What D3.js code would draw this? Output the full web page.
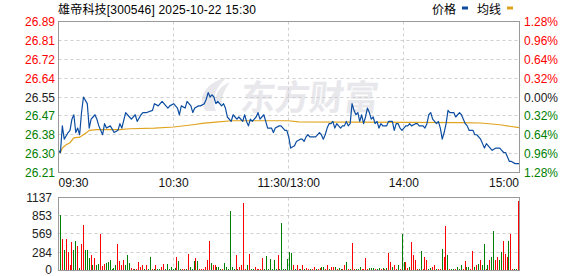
<!DOCTYPE html>
<meta charset="utf-8">
<script src="https://d3js.org/d3.v7.min.js"></script>
<style>body{margin:0;background:#fff}</style>
<div id="chart"></div>
<script>

    // chart texts
    const title = "雄帝科技[300546] 2025-10-22 15:30";
    const legendNames = ["价格", "均线"];
    const priceTicks = ["26.89", "26.81", "26.72", "26.64", "26.55", "26.47", "26.38", "26.30", "26.21"];
    const pctTicks = ["1.28%", "0.96%", "0.64%", "0.32%", "0.00%", "0.32%", "0.64%", "0.96%", "1.28%"];
    const volTicks = [1137, 853, 569, 284, 0];
    const timeTicks = [[0, "09:30"], [60, "10:30"], [120, "11:30/13:00"], [180, "14:00"], [240, "15:00"]];

    // price line (minute index from 09:30, price)
    const priceMin = [0,1,2,3,5,6,7,8,9,10,11,12,13,15,16,17,18,19,20,21,23,24,25,27,29,31,32,33,35,37,38,40,41,43,44,46,49,50,52,54,56,57,58,60,62,63,64,66,67,69,70,71,73,74,76,77,78,79,80,81,82,83,85,86,87,88,90,91,93,94,96,97,98,99,100,101,103,104,105,107,108,109,111,112,113,115,116,118,119,120,
        121,123,124,126,127,128,129,130,131,133,134,136,137,138,139,140,141,142,143,144,145,146,147,148,149,150,151,152,153,154,155,156,157,158,159,160,161,162,163,164,165,166,167,168,169,171,172,173,174,175,176,177,178,179,180,181,182,183,184,186,187,188,190,191,192,
        193,194,195,196,197,198,199,200,201,202,203,204,206,207,208,209,210,211,212,213,214,216,217,218,220,221,222,223,224,226,228,229,230,231,232,233,234,235,236,238,240];
    const priceVal = [26.31,26.30,26.42,26.36,26.39,26.40,26.45,26.47,26.39,26.41,26.38,26.48,26.55,26.52,26.41,26.45,26.46,26.47,26.45,26.42,26.38,26.43,26.41,26.42,26.39,26.40,26.43,26.41,26.48,26.46,26.45,26.47,26.44,26.47,26.48,26.48,26.49,26.52,26.51,26.53,26.51,26.50,26.51,26.52,26.50,26.47,26.51,26.50,26.53,26.51,26.48,26.50,26.51,26.51,26.52,26.54,26.57,26.55,26.56,26.55,26.52,26.53,26.51,26.52,26.50,26.46,26.44,26.47,26.45,26.46,26.44,26.47,26.44,26.42,26.45,26.44,26.46,26.48,26.45,26.47,26.44,26.41,26.41,26.39,26.41,26.42,26.42,26.40,26.40,26.37,
        26.32,26.33,26.35,26.36,26.36,26.35,26.37,26.38,26.37,26.37,26.37,26.39,26.38,26.36,26.38,26.41,26.43,26.43,26.44,26.41,26.43,26.42,26.41,26.42,26.42,26.44,26.42,26.43,26.52,26.49,26.47,26.48,26.44,26.47,26.43,26.46,26.50,26.48,26.45,26.46,26.43,26.44,26.41,26.43,26.42,26.42,26.44,26.44,26.44,26.40,26.43,26.43,26.41,26.40,26.41,26.42,26.42,26.43,26.42,26.43,26.43,26.42,26.42,26.41,26.43,
        26.47,26.48,26.45,26.44,26.43,26.44,26.41,26.36,26.39,26.43,26.49,26.48,26.48,26.46,26.47,26.48,26.47,26.45,26.43,26.42,26.40,26.40,26.38,26.38,26.36,26.34,26.32,26.34,26.33,26.31,26.32,26.32,26.32,26.31,26.30,26.30,26.28,26.26,26.26,26.25,26.25];

    // average line
    const avgMin = [0, 1, 2, 4, 6, 8, 11, 13, 15, 16, 20, 32, 37, 50, 60, 70, 76, 82, 90, 120, 125, 210, 220, 230, 240];
    const avgVal = [26.30, 26.30, 26.32, 26.335, 26.344, 26.366, 26.369, 26.38, 26.392, 26.40, 26.403, 26.403, 26.407, 26.41, 26.415, 26.425, 26.432, 26.437, 26.443, 26.443, 26.438, 26.435, 26.433, 26.425, 26.412];

    // volume per minute, and colour (r = up, g = down)
    const volumes = [857,483,327,493,285,78,451,327,467,389, 40,405,716,327,327,197,249,93,197,78,
        104,576,67,104,119,130,156,26,41,93, 405,145,93,166,78,249,114,41,26,26,
        26,130,52,78,26,78,26,218,26,26, 78,26,26,62,104,26,104,26,62,26,
        41,218,145,26,26,26,26,260,52,26, 145,197,145,26,26,26,62,156,457,119,
        78,93,62,62,26,26,119,62,26,924, 52,26,249,26,52,78,1048,26,93,260,
        26,26,52,26,26,26,197,26,223,26, 182,26,156,26,249,26,737,26,26,182, 285,
        270,78,26,78,26,26,78,26,41,26, 26,26,52,26,26,41,52,62,26,93,
        26,62,52,52,26,36,26,26,78,130, 26,26,426,26,26,26,62,26,26,192,
        26,36,36,36,26,26,36,26,36,26, 41,270,130,62,78,26,78,26,561,130,
        130,41,62,441,234,166,26,26,311,26, 218,156,26,41,52,78,26,26,26,337,
        218,700,234,26,26,26,26,52,26,78, 26,145,52,52,26,301,52,78,104,166,
        93,405,26,88,166,208,623,166,218,166, 285,467,260,208,457,561,26,26,26,1080];
    const volColors = ("grgrrrrggr" + "grrgggrgrg" + "grrrgggggg" + "rrrrgggrrg" + "rrrrgrggrg" +
        "rggrrggggg" + "grggrrgrgg" + "grgrrrrrrg" + "rrgggrgggg" + "ggrgrrrrgr" +
        "ggrrrrrggg" + "ggggrggggg" + "g" +
        "grgrrgrgrr" + "grrgrrggrr" + "grrgrggrrg" + "rgrrgggrrr" + "rgggrggrgr" +
        "grrgrrgrgg" + "rrgrrrrggr" + "rrggrrgrrg" + "rrgrggrggg" + "rrggrrgrgr" +
        "ggrgrggrrg" + "grrrgrrggr").split("");

    const W = 578, H = 276;
    const pLeft = 58.5, pRight = 519.5, pTop = 21.5, pBot = 172.5, vTop = 197.5, vBot = 270.5;
    const labelFont = "Liberation Sans, Arial, sans-serif";
    const cjkFont = "Liberation Sans, Noto Sans CJK SC, sans-serif";
    const red = "#ff0000", green = "#008000", gridC = "#cfcfcf", frameC = "#9a9a9a";

    const svg = d3.select("#chart").append("svg")
        .attr("width", W).attr("height", H)
        .style("display", "block");

    const x = d3.scaleLinear().domain([0, 240]).range([pLeft, pRight - 0.5]);
    const xv = d3.scaleLinear().domain([0, 240]).range([60, 518]);
    const y = d3.scaleLinear().domain([26.21, 26.89]).range([pBot, pTop]);
    const yv = d3.scaleLinear().domain([0, 1137]).range([vBot, vTop]);

    // title and legend
    svg.append("text").attr("x", 58).attr("y", 14)
        .style("font-family", cjkFont).style("font-size", "12px")
        .attr("textLength", 198).attr("lengthAdjust", "spacing")
        .text(title);

    const legendX = [432, 477], legendColors = ["#0c4da2", "#e0a31e"];
    legendNames.forEach(function (name, i) {
        svg.append("text").attr("x", legendX[i]).attr("y", 14)
            .style("font-family", "Noto Sans CJK SC, sans-serif").style("font-size", "12px")
            .text(name);
        svg.append("rect").attr("x", legendX[i] + 30).attr("y", 6.5)
            .attr("width", 6).attr("height", 3).attr("fill", legendColors[i]);
    });

    // watermark
    const wm = svg.append("g").attr("fill", "#e8e8ec");
    wm.append("path").attr("d", "M206,111 C197,99 203,84 227,77 C215,88 211,99 216,111 Z");
    wm.append("path").attr("d", "M216,104 C214,94 220,86 230,82 C223,92 221,99 222,104 Z");
    wm.append("text").attr("x", 239).attr("y", 110)
        .attr("transform", "skewX(-6) translate(12,0)")
        .attr("textLength", 138).attr("lengthAdjust", "spacing")
        .style("font-family", "Noto Sans CJK SC, sans-serif").style("font-size", "35px")
        .style("font-weight", "bold")
        .text("东方财富");

    // grid
    const grid = svg.append("g").attr("stroke", gridC).attr("stroke-dasharray", "3,3");
    priceTicks.forEach(function (t, i) {
        if (i === 0 || i === priceTicks.length - 1) return;
        const yy = Math.round(pTop + (pBot - pTop) * i / 8 - 0.5) + 0.5;
        grid.append("line").attr("x1", pLeft).attr("x2", pRight).attr("y1", yy).attr("y2", yy);
    });
    volTicks.slice(1, 4).forEach(function (v) {
        const yy = Math.round(yv(v) - 0.5) + 0.5;
        grid.append("line").attr("x1", pLeft).attr("x2", pRight).attr("y1", yy).attr("y2", yy);
    });
    [60, 120, 180].forEach(function (m) {
        const xx = Math.round(x(m) - 0.5) + 0.5;
        grid.append("line").attr("x1", xx).attr("x2", xx).attr("y1", pTop).attr("y2", pBot);
        grid.append("line").attr("x1", xx).attr("x2", xx).attr("y1", vTop).attr("y2", vBot);
    });

    // volume bars
    svg.append("g").attr("shape-rendering", "crispEdges").selectAll("rect")
        .data(volumes)
        .join("rect")
        .attr("x", function (d, i) { return Math.round(xv(i)); })
        .attr("y", function (d) { return Math.round(yv(d)); })
        .attr("width", 1)
        .attr("height", function (d) { return 270 - Math.round(yv(d)); })
        .attr("fill", function (d, i) { return volColors[i] === "r" ? red : green; });

    // average and price lines
    const avgPts = avgMin.map(function (m, i) { return [m, avgVal[i]]; });
    const pricePts = priceMin.map(function (m, i) { return [m, priceVal[i]]; });
    const line = d3.line().x(function (d) { return x(d[0]); }).y(function (d) { return y(d[1]); });

    svg.append("path").datum(avgPts).attr("d", line)
        .attr("fill", "none").attr("stroke", "#e0a31e").attr("stroke-width", 1.2);
    svg.append("path").datum(pricePts).attr("d", line)
        .attr("fill", "none").attr("stroke", "#0c4da2").attr("stroke-width", 1.2)
        .attr("stroke-linejoin", "round");

    // frames
    svg.append("rect").attr("x", pLeft).attr("y", pTop).attr("width", pRight - pLeft).attr("height", pBot - pTop)
        .attr("fill", "none").attr("stroke", frameC);
    svg.append("rect").attr("x", pLeft).attr("y", vTop).attr("width", pRight - pLeft).attr("height", vBot - vTop)
        .attr("fill", "none").attr("stroke", frameC);

    // price axis labels (left) and percent labels (right)
    function tickColor(i) { return i < 4 ? red : (i === 4 ? "#222" : green); }
    priceTicks.forEach(function (t, i) {
        const yy = pTop + (pBot - pTop) * i / 8;
        svg.append("text").attr("x", 55).attr("y", yy + 4.5)
            .attr("text-anchor", "end")
            .style("font-family", labelFont).style("font-size", "12px")
            .attr("fill", tickColor(i)).text(t);
        svg.append("text").attr("x", 524).attr("y", yy + 4.5)
            .style("font-family", labelFont).style("font-size", "12px")
            .attr("fill", tickColor(i)).text(pctTicks[i]);
    });

    // time labels
    timeTicks.forEach(function (t, i) {
        const anchor = i === 0 ? "start" : (i === timeTicks.length - 1 ? "end" : "middle");
        svg.append("text").attr("x", x(t[0])).attr("y", 187)
            .attr("text-anchor", anchor)
            .style("font-family", labelFont).style("font-size", "12px")
            .attr("fill", "#111").text(t[1]);
    });

    // volume labels
    volTicks.forEach(function (v) {
        svg.append("text").attr("x", 52).attr("y", Math.min(yv(v) + 4.5, 274))
            .attr("text-anchor", "end")
            .style("font-family", labelFont).style("font-size", "12px")
            .attr("fill", "#222").text(v);
    });

</script>
